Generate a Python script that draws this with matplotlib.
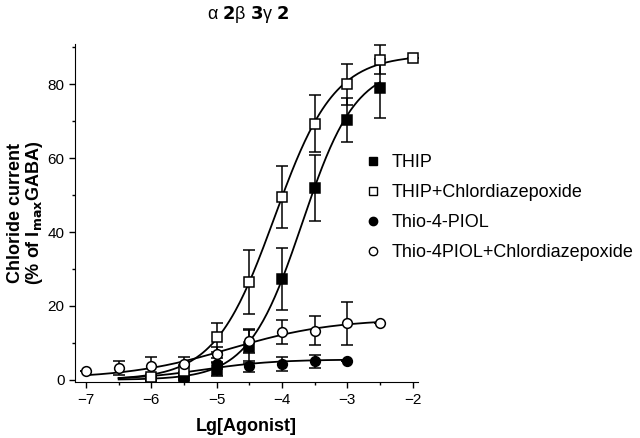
import numpy as np
import matplotlib
matplotlib.use("Agg")
import matplotlib.pyplot as plt
from matplotlib.ticker import MultipleLocator
from matplotlib.lines import Line2D

plt.rcParams['font.family'] = ['Liberation Sans', 'DejaVu Sans']

# log concentrations and responses (% of Imax GABA)
thip_x = [-6, -5.5, -5, -4.5, -4, -3.5, -3, -2.5]
thip_y = [0.3, 0.3, 2.7, 9.0, 27.3, 52.0, 70.4, 79.0]
thip_err = [0.3, 0.3, 1.8, 4.5, 8.5, 9.0, 6.0, 8.0]

thipcdp_x = [-6, -5.5, -5, -4.5, -4, -3.5, -3, -2.5, -2]
thipcdp_y = [0.8, 2.5, 11.5, 26.5, 49.5, 69.3, 80.0, 86.7, 87.2]
thipcdp_err = [0.3, 1.5, 4.0, 8.7, 8.5, 7.7, 5.5, 4.0, 0.0]

thio_x = [-5, -4.5, -4, -3.5, -3]
thio_y = [4.3, 3.6, 4.3, 5.0, 5.1]
thio_err = [1.5, 1.5, 1.8, 1.8, 0.0]

thiocdp_x = [-7, -6.5, -6, -5.5, -5, -4.5, -4, -3.5, -3, -2.5]
thiocdp_y = [2.3, 3.3, 3.6, 4.2, 6.9, 10.5, 12.9, 13.3, 15.3, 15.3]
thiocdp_err = [0.0, 1.9, 2.6, 2.0, 2.0, 3.3, 3.3, 4.0, 5.8, 0.0]

# fitted sigmoid parameters: bottom, top, logEC50, hill, x range
fits = {
    'THIP': (0.0, 85.0, -3.69, 1.06, -6.5, -2.5),
    'THIP+Chlordiazepoxide': (0.0, 88.0, -4.115, 0.95, -6.5, -2.0),
    'Thio-4-PIOL': (0.0, 5.5, -5.2, 0.8, -6.5, -3.0),
    'Thio-4PIOL+Chlordiazepoxide': (0.3, 16.5, -4.8, 0.55, -7.0, -2.5),
}


def hill(x, bottom, top, ec50, n):
    return bottom + (top - bottom) / (1 + 10 ** ((ec50 - x) * n))


fig = plt.figure(figsize=(6.4, 4.38), dpi=100)
ax = fig.add_axes([0.117, 0.127, 0.536, 0.773])

for name, (b, t, e, n, x0, x1) in fits.items():
    xs = np.linspace(x0, x1, 200)
    ax.plot(xs, hill(xs, b, t, e, n), color='black', lw=1.3, zorder=2)

series = [
    (thip_x, thip_y, thip_err, 's', 'black', 'THIP'),
    (thipcdp_x, thipcdp_y, thipcdp_err, 's', 'white', 'THIP+Chlordiazepoxide'),
    (thio_x, thio_y, thio_err, 'o', 'black', 'Thio-4-PIOL'),
    (thiocdp_x, thiocdp_y, thiocdp_err, 'o', 'white', 'Thio-4PIOL+Chlordiazepoxide'),
]

handles = []
for xv, yv, ev, m, fc, lab in series:
    ax.errorbar(xv, yv, yerr=ev, fmt=m, mfc=fc, mec='black', ms=7, mew=1.1,
                ecolor='black', elinewidth=1.1, capsize=4, capthick=1.1, zorder=3)
    handles.append(Line2D([], [], ls='none', marker=m, mfc=fc, mec='black',
                          ms=6, mew=1.0, label=lab))

ax.set_xlim(-7.17, -1.92)
ax.set_ylim(-0.7, 91)
ax.xaxis.set_major_locator(MultipleLocator(1))
ax.xaxis.set_minor_locator(MultipleLocator(0.5))
ax.set_yticks([0, 20, 40, 60, 80])
ax.yaxis.set_minor_locator(MultipleLocator(10))
ax.tick_params(which='major', length=4, width=1, labelsize=11, direction='out')
ax.tick_params(which='minor', length=2.5, width=1, direction='out')
ax.spines['top'].set_visible(False)
ax.spines['right'].set_visible(False)

ax.set_xlabel('Lg[Agonist]', fontsize=13, fontweight='bold', labelpad=8)
ax.set_ylabel('Chloride current\n(% of I$_{\\mathbf{max}}$GABA)', fontsize=13,
              fontweight='bold', labelpad=2, linespacing=1.0)

fig.text(0.388, 0.99, 'α $\\mathbf{2}$β $\\mathbf{3}$γ $\\mathbf{2}$',
         ha='center', va='top', fontsize=13)

fig.legend(handles=handles, loc='upper left', bbox_to_anchor=(0.558, 0.665),
           frameon=False, fontsize=13, handletextpad=0.5, handlelength=1.0,
           labelspacing=0.72, borderaxespad=0)

fig.savefig('out.png', dpi=100)
